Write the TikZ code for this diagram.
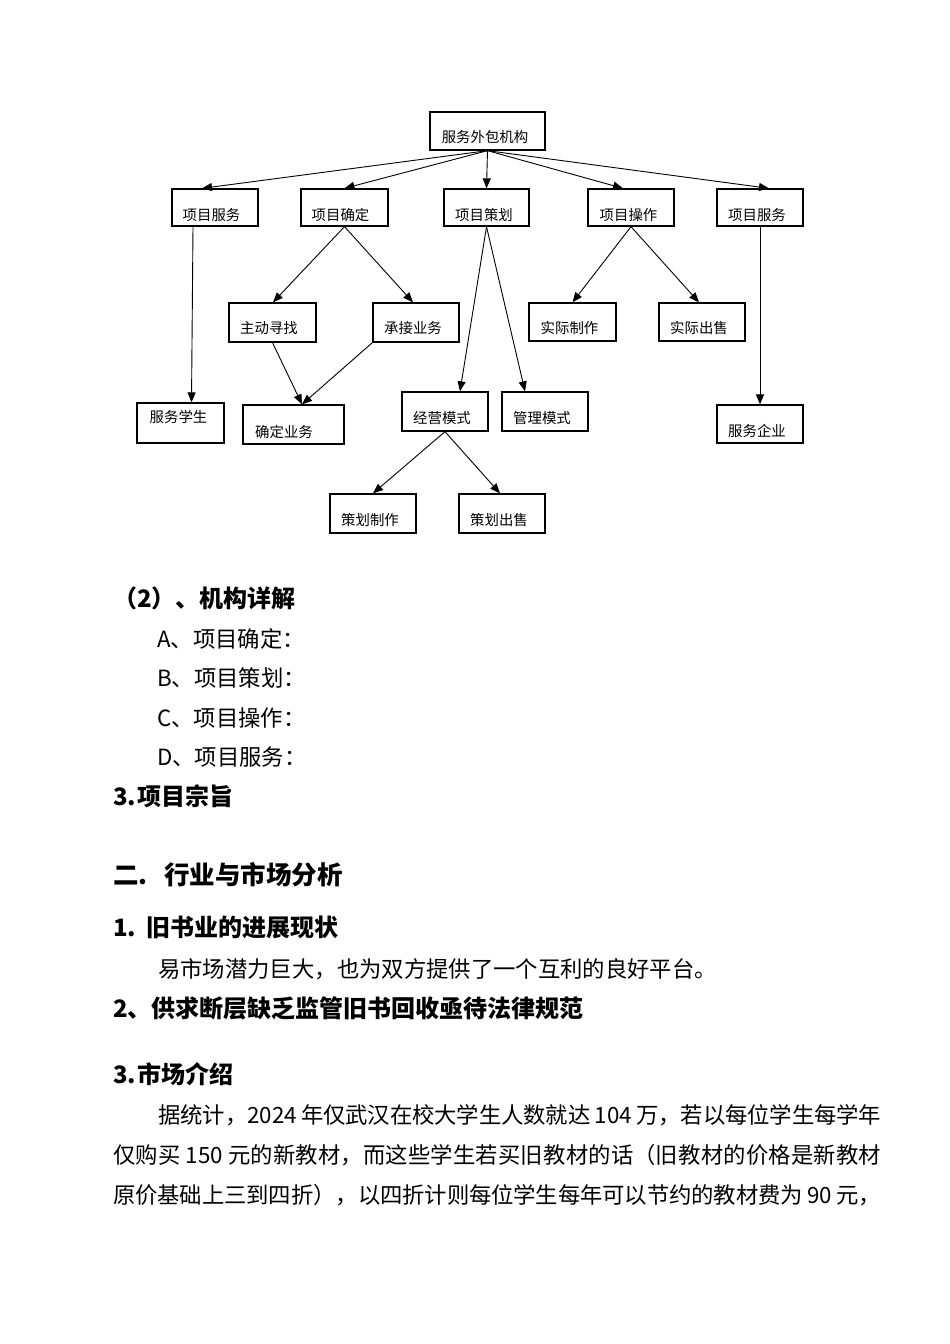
\documentclass[tikz,border=0pt]{standalone}
\usepackage{fontspec}
\setmainfont{Noto Sans CJK SC}
\usetikzlibrary{arrows.meta}
\XeTeXlinebreaklocale "zh"
\XeTeXlinebreakskip=0pt plus 4pt minus 0.3pt
\newcommand{\jline}[2]{\parbox[b]{#1}{\noindent\parfillskip=0pt\relax #2\par}}
\begin{document}
\begin{tikzpicture}[x=1pt,y=-1pt,
  box/.style={draw, line width=1.3pt, inner sep=0pt},
  lbl/.style={anchor=base, inner sep=0pt, font=\fontsize{14.4}{14.4}\selectfont},
  conn/.style={line width=0.9pt, -{Triangle[length=10pt,width=8pt]}},
  body/.style={anchor=base west, inner sep=0pt, font=\fontsize{22.35}{22.35}\selectfont},
  head/.style={anchor=base west, inner sep=0pt, font=\fontsize{24}{24}\selectfont\bfseries},
  bighead/.style={anchor=base west, inner sep=0pt, font=\fontsize{25.5}{25.5}\selectfont\bfseries}]
\useasboundingbox (0,0) rectangle (950,1344);
\fill[white] (0,0) rectangle (950,1344);

% boxes
\node[box, minimum width=115pt, minimum height=38pt] (top) at (487.5,131) {};
\node[box, minimum width=86pt, minimum height=37pt] (s1) at (215,207.5) {};
\node[box, minimum width=87pt, minimum height=37pt] (s2) at (344.5,207.5) {};
\node[box, minimum width=85pt, minimum height=37pt] (s3) at (486.5,207.5) {};
\node[box, minimum width=86pt, minimum height=37pt] (s4) at (631,207.5) {};
\node[box, minimum width=86pt, minimum height=37pt] (s5) at (760,207.5) {};
\node[box, minimum width=87pt, minimum height=39pt] (r1) at (272.5,322.5) {};
\node[box, minimum width=86pt, minimum height=39pt] (r2) at (416,322.5) {};
\node[box, minimum width=87pt, minimum height=38pt] (r3) at (572.5,322) {};
\node[box, minimum width=86pt, minimum height=38pt] (r4) at (702,322) {};
\node[box, minimum width=87pt, minimum height=40pt] (f1) at (180.5,423) {};
\node[box, minimum width=101pt, minimum height=39pt] (f2) at (293.5,424.5) {};
\node[box, minimum width=86pt, minimum height=39pt] (f3) at (445,411.5) {};
\node[box, minimum width=86pt, minimum height=39pt] (f4) at (545,411.5) {};
\node[box, minimum width=86pt, minimum height=38pt] (f5) at (760,424) {};
\node[box, minimum width=86pt, minimum height=39pt] (g1) at (373,513.5) {};
\node[box, minimum width=86pt, minimum height=39pt] (g2) at (502,513.5) {};

% labels
\node[lbl] (t0) at (485,142) {服务外包机构};
\node[lbl] (t1) at (211.5,220) {项目服务};
\node[lbl] (t2) at (340.5,220) {项目确定};
\node[lbl] (t3) at (484,220) {项目策划};
\node[lbl] (t4) at (628.5,220) {项目操作};
\node[lbl] (t5) at (757,220) {项目服务};
\node[lbl] (u1) at (269,333.5) {主动寻找};
\node[lbl] (u2) at (413,333.5) {承接业务};
\node[lbl] (u3) at (569.5,333.5) {实际制作};
\node[lbl] (u4) at (699,333.5) {实际出售};
\node[lbl] (v1) at (178.5,422) {服务学生};
\node[lbl] (v2) at (284,437) {确定业务};
\node[lbl] (v3) at (442,423.5) {经营模式};
\node[lbl] (v4) at (542,423.5) {管理模式};
\node[lbl] (v5) at (757,436.5) {服务企业};
\node[lbl] (w1) at (370,525.5) {策划制作};
\node[lbl] (w2) at (499,525.5) {策划出售};

% connectors
\draw[conn] (top.south) -- ([xshift=-13pt]s1.north);
\draw[conn] (top.south) -- (s2.north);
\draw[conn] (top.south) -- (s3.north);
\draw[conn] (top.south) -- ([xshift=-8pt]s4.north);
\draw[conn] (top.south) -- ([xshift=9pt]s5.north);
\draw[conn] ([xshift=-22pt]s1.south) -- ([xshift=11pt]f1.north);
\draw[conn] (s2.south) -- ([xshift=0.5pt]r1.north);
\draw[conn] (s2.south) -- ([xshift=-3pt]r2.north);
\draw[conn] (s3.south) -- ([xshift=15pt]f3.north);
\draw[conn] (s3.south) -- ([xshift=-20pt]f4.north);
\draw[conn] (s4.south) -- ([xshift=0pt]r3.north);
\draw[conn] (s4.south) -- ([xshift=-3pt]r4.north);
\draw[conn] (s5.south) -- (f5.north);
\draw[conn] (r1.south) -- ([xshift=8.5pt]f2.north);
\draw[conn] (r2.south west) -- ([xshift=8.5pt]f2.north);
\draw[conn] (f3.south) -- ([xshift=0pt]g1.north);
\draw[conn] (f3.south) -- ([xshift=-2pt]g2.north);

% text
\node[head] (h1) at (113,607) {（2）、机构详解};
\node[body] (a1) at (157,647) {A、项目确定：};
\node[body] (a2) at (157,686) {B、项目策划：};
\node[body] (a3) at (157,726) {C、项目操作：};
\node[body] (a4) at (157,765) {D、项目服务：};
\node[head] (h2) at (113,805) {3.};
\node[head] (h2b) at (137,805) {项目宗旨};
\node[bighead] (h3) at (113,884) {二.};
\node[bighead] (h3b) at (164,884) {行业与市场分析};
\node[head] (h4) at (113,936) {1.};
\node[head] (h4b) at (146,936) {旧书业的进展现状};
\node[body] (p0) at (158,977) {易市场潜力巨大，也为双方提供了一个互利的良好平台。};
\node[head] (h5) at (113,1017) {2、供求断层缺乏监管旧书回收亟待法律规范};
\node[head] (h6) at (113,1083) {3.};
\node[head] (h6b) at (137,1083) {市场介绍};
\node[body] (p1) at (158,1123) {\jline{723pt}{据统计，2024 年仅武汉在校大学生人数就达 104 万，若以每位学生每学年}};
\node[body] (p2) at (113,1163) {\jline{768pt}{仅购买 150 元的新教材，而这些学生若买旧教材的话（旧教材的价格是新教材}};
\node[body] (p3) at (113,1203) {\jline{768pt}{原价基础上三到四折），以四折计则每位学生每年可以节约的教材费为 90 元，}};
\end{tikzpicture}
\end{document}
